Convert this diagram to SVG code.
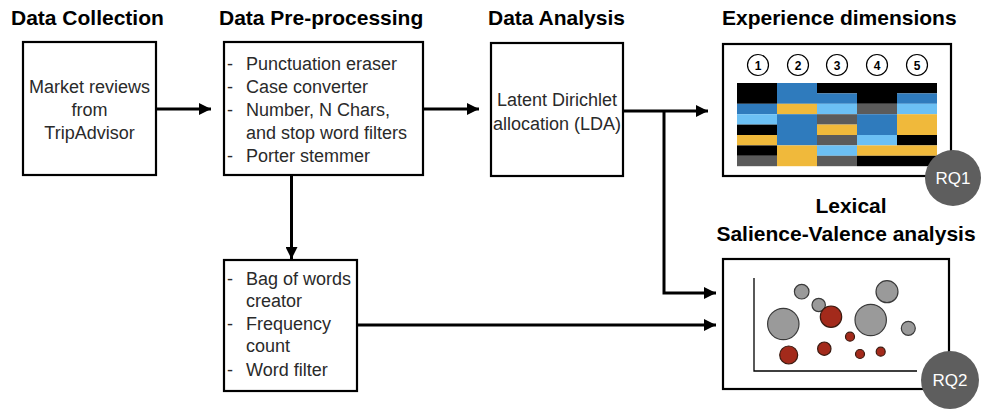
<svg xmlns="http://www.w3.org/2000/svg" width="981" height="413" viewBox="0 0 981 413">
<style>
.title{font-family:"Liberation Sans",Arial,sans-serif;font-weight:bold;font-size:21px;fill:#000}
.txt{font-family:"Liberation Sans",Arial,sans-serif;font-size:18px;fill:#2a2a2a}
.box{fill:#fff;stroke:#000;stroke-width:2.2}
.conn{fill:none;stroke:#000;stroke-width:3}
.num{fill:#fff;stroke:#000;stroke-width:1.2}
.numt{font-family:"Liberation Sans",Arial,sans-serif;font-size:12px;font-weight:bold;fill:#000;text-anchor:middle}
.k{fill:#000}.b{fill:#2f7bbd}.l{fill:#6cc0f4}.y{fill:#f0b93b}.g{fill:#5b5b5b}
.gc{fill:#9a9a9a;stroke:#3a3a3a;stroke-width:1.2}
.rc{fill:#a32a1b;stroke:#3a1a10;stroke-width:1.2}
.rq{fill:#5e5e5e}
.rqt{font-family:"Liberation Sans",Arial,sans-serif;font-size:17px;fill:#fff;text-anchor:middle}
</style>
<defs>
<marker id="ah" markerWidth="12" markerHeight="12" viewBox="0 0 12 12" refX="12" refY="6" orient="auto" markerUnits="userSpaceOnUse">
<path d="M0,0 L12,6 L0,12 Z" fill="#000"/>
</marker>
</defs>
<g id="titles">
<text class="title" x="11" y="25">Data Collection</text>
<text class="title" x="219" y="25">Data Pre-processing</text>
<text class="title" x="488" y="25">Data Analysis</text>
<text class="title" x="722" y="25">Experience dimensions</text>
<text class="title" x="851" y="213" text-anchor="middle">Lexical</text>
<text class="title" x="846" y="241" text-anchor="middle">Salience-Valence analysis</text>
</g>
<g id="connectors">
<line class="conn" x1="156" y1="109" x2="211" y2="109" marker-end="url(#ah)"/>
<line class="conn" x1="423" y1="109" x2="479" y2="109" marker-end="url(#ah)"/>
<line class="conn" x1="623" y1="111" x2="708" y2="111" marker-end="url(#ah)"/>
<polyline class="conn" points="664,111 664,293 716,293" marker-end="url(#ah)"/>
<line class="conn" x1="291.5" y1="175" x2="291.5" y2="259" marker-end="url(#ah)"/>
<line class="conn" x1="357" y1="325" x2="716" y2="325" marker-end="url(#ah)"/>
</g>
<g id="collection">
<rect class="box" x="23" y="42" width="133" height="133"/>
<text class="txt" x="89.5" y="93" text-anchor="middle">Market reviews</text>
<text class="txt" x="89.5" y="116" text-anchor="middle">from</text>
<text class="txt" x="89.5" y="139" text-anchor="middle">TripAdvisor</text>
</g>
<g id="preprocessing">
<rect class="box" x="224" y="42" width="199" height="133"/>
<text class="txt" x="227" y="70">-</text><text class="txt" x="246" y="70">Punctuation eraser</text>
<text class="txt" x="227" y="93">-</text><text class="txt" x="246" y="93">Case converter</text>
<text class="txt" x="227" y="116">-</text><text class="txt" x="246" y="116">Number, N Chars,</text>
<text class="txt" x="246" y="139">and stop word filters</text>
<text class="txt" x="227" y="162">-</text><text class="txt" x="246" y="162">Porter stemmer</text>
</g>
<g id="analysis">
<rect class="box" x="491" y="43" width="132" height="133"/>
<text class="txt" x="557" y="106" text-anchor="middle">Latent Dirichlet</text>
<text class="txt" x="557" y="130" text-anchor="middle">allocation (LDA)</text>
</g>
<g id="bagofwords">
<rect class="box" x="224" y="260" width="133" height="131"/>
<text class="txt" x="227" y="285">-</text><text class="txt" x="246" y="285">Bag of words</text>
<text class="txt" x="246" y="307">creator</text>
<text class="txt" x="227" y="330">-</text><text class="txt" x="246" y="330">Frequency</text>
<text class="txt" x="246" y="352">count</text>
<text class="txt" x="227" y="376">-</text><text class="txt" x="246" y="376">Word filter</text>
</g>
<g id="experience">
<rect class="box" x="723" y="44" width="228" height="132"/>
<circle class="num" cx="758" cy="65" r="10.5"/><text class="numt" x="758" y="69.5">1</text>
<circle class="num" cx="798" cy="65" r="10.5"/><text class="numt" x="798" y="69.5">2</text>
<circle class="num" cx="837" cy="65" r="10.5"/><text class="numt" x="837" y="69.5">3</text>
<circle class="num" cx="877" cy="65" r="10.5"/><text class="numt" x="877" y="69.5">4</text>
<circle class="num" cx="917" cy="65" r="10.5"/><text class="numt" x="917" y="69.5">5</text>
<!-- column 1 -->
<rect class="k" x="737" y="83" width="40" height="20.8"/>
<rect class="b" x="737" y="103.8" width="40" height="10.4"/>
<rect class="l" x="737" y="114.2" width="40" height="10.4"/>
<rect class="k" x="737" y="124.6" width="40" height="10.4"/>
<rect class="y" x="737" y="135" width="40" height="10.4"/>
<rect class="k" x="737" y="145.4" width="40" height="10.4"/>
<rect class="g" x="737" y="155.8" width="40" height="10.4"/>
<!-- column 2 -->
<rect class="b" x="777" y="83" width="40" height="20.8"/>
<rect class="y" x="777" y="103.8" width="40" height="10.4"/>
<rect class="b" x="777" y="114.2" width="40" height="31.2"/>
<rect class="y" x="777" y="145.4" width="40" height="20.8"/>
<!-- column 3 -->
<rect class="k" x="817" y="83" width="40" height="10.4"/>
<rect class="b" x="817" y="93.4" width="40" height="10.4"/>
<rect class="l" x="817" y="103.8" width="40" height="10.4"/>
<rect class="g" x="817" y="114.2" width="40" height="10.4"/>
<rect class="y" x="817" y="124.6" width="40" height="10.4"/>
<rect class="g" x="817" y="135" width="40" height="10.4"/>
<rect class="l" x="817" y="145.4" width="40" height="10.4"/>
<rect class="g" x="817" y="155.8" width="40" height="10.4"/>
<!-- column 4 -->
<rect class="k" x="857" y="83" width="40" height="20.8"/>
<rect class="g" x="857" y="103.8" width="40" height="10.4"/>
<rect class="b" x="857" y="114.2" width="40" height="20.8"/>
<rect class="l" x="857" y="135" width="40" height="10.4"/>
<rect class="y" x="857" y="145.4" width="40" height="10.4"/>
<rect class="k" x="857" y="155.8" width="40" height="10.4"/>
<!-- column 5 -->
<rect class="k" x="897" y="83" width="40" height="10.4"/>
<rect class="b" x="897" y="93.4" width="40" height="10.4"/>
<rect class="l" x="897" y="103.8" width="40" height="10.4"/>
<rect class="y" x="897" y="114.2" width="40" height="20.8"/>
<rect class="k" x="897" y="135" width="40" height="10.4"/>
<rect class="y" x="897" y="145.4" width="40" height="10.4"/>
<rect class="k" x="897" y="155.8" width="40" height="10.4"/>
</g>
<g id="rq1">
<circle class="rq" cx="953" cy="178" r="28"/>
<text class="rqt" x="953" y="184">RQ1</text>
</g>
<g id="salience">
<rect class="box" x="723" y="259" width="226" height="130"/>
<polyline fill="none" stroke="#000" stroke-width="1.3" points="754,278 754,371 917,371"/>
<circle class="gc" cx="801.7" cy="291.7" r="7.3"/>
<circle class="gc" cx="818.7" cy="305" r="6.7"/>
<circle class="rc" cx="831" cy="316.7" r="10.7"/>
<circle class="gc" cx="783.3" cy="324" r="15.7"/>
<circle class="gc" cx="870.7" cy="320" r="15.7"/>
<circle class="gc" cx="887" cy="291.7" r="11"/>
<circle class="gc" cx="908.3" cy="328.3" r="7"/>
<circle class="rc" cx="850" cy="336.7" r="4.5"/>
<circle class="rc" cx="788.7" cy="355" r="9"/>
<circle class="rc" cx="824.3" cy="348.7" r="6.7"/>
<circle class="rc" cx="860" cy="354" r="4.5"/>
<circle class="rc" cx="880.7" cy="351.7" r="4.5"/>
</g>
<g id="rq2">
<circle class="rq" cx="950" cy="380" r="29"/>
<text class="rqt" x="950" y="386">RQ2</text>
</g>
</svg>
